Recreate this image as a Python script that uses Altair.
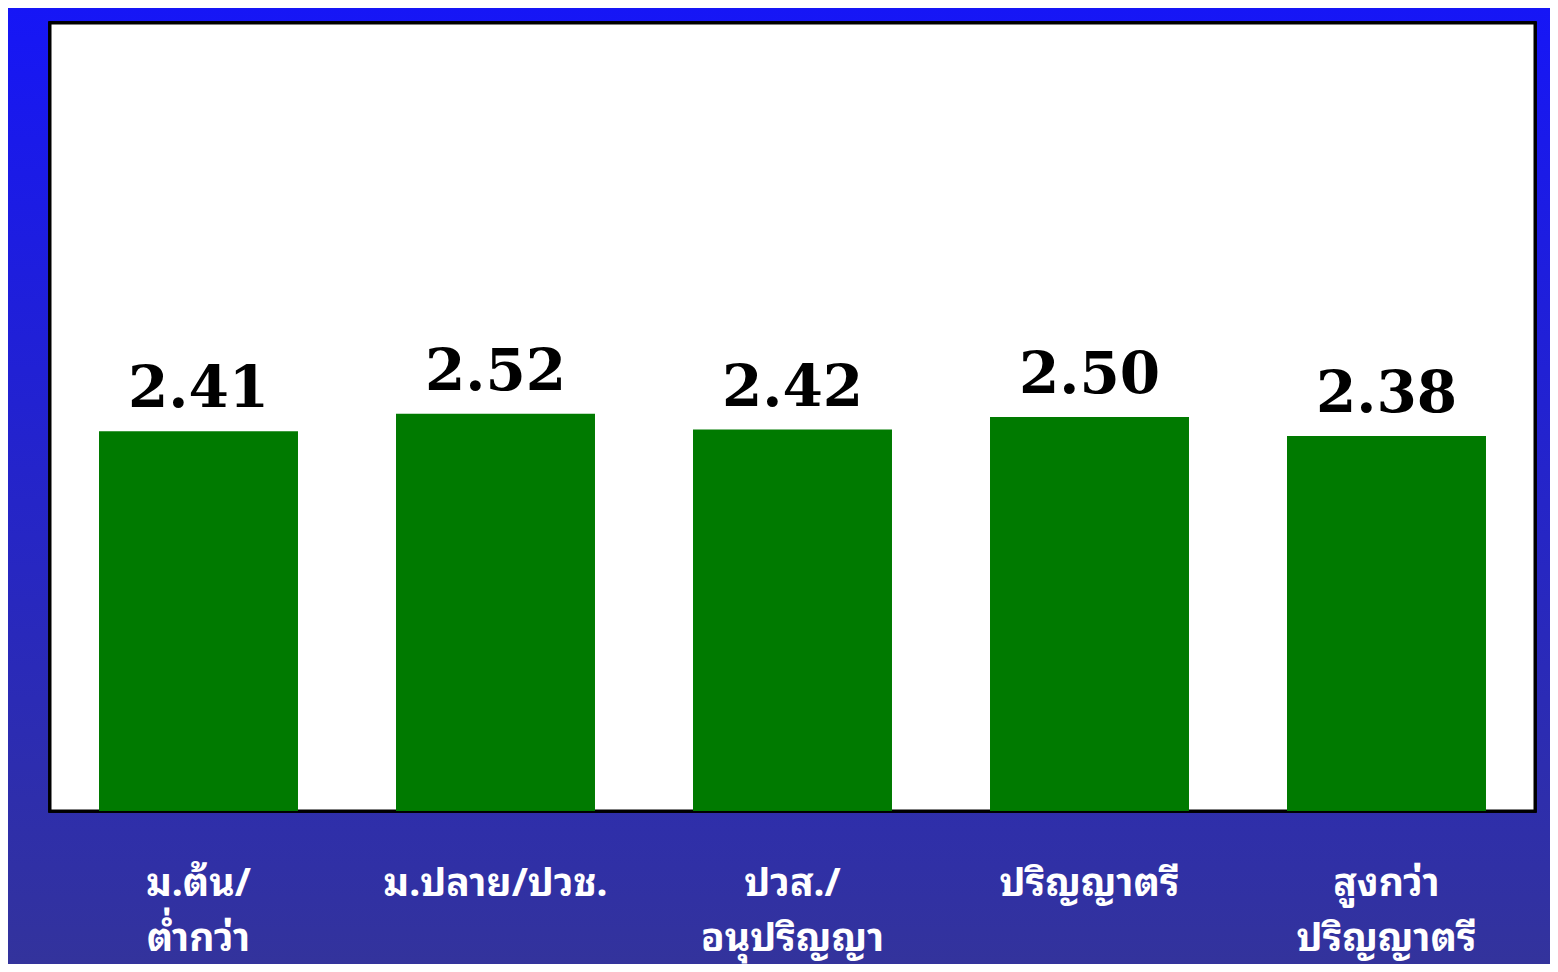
import altair as alt
import pandas as pd

categories = ["ม.ต้น/|ต่ำกว่า", "ม.ปลาย/ปวช.", "ปวส./|อนุปริญญา", "ปริญญาตรี", "สูงกว่า|ปริญญาตรี"]
values = [2.41, 2.52, 2.42, 2.50, 2.38]

df = pd.DataFrame({"cat": categories, "val": values})

W, H = 1485, 788
PAD = {"left": 42, "top": 15, "right": 15, "bottom": 153}

gradient = alt.Gradient(
    gradient="linear",
    stops=[alt.GradientStop(color="#1616f6", offset=0),
           alt.GradientStop(color="#33339c", offset=1)],
    x1=0, x2=0, y1=0, y2=1,
)

base = alt.Chart(df)

bg = base.mark_rect(fill=gradient).encode(
    x=alt.value(-PAD["left"]), x2=alt.value(W + PAD["right"]),
    y=alt.value(-PAD["top"]), y2=alt.value(H + PAD["bottom"]),
)

plot_bg = base.mark_rect(fill="white", stroke="black", strokeWidth=3).encode(
    x=alt.value(0), x2=alt.value(W), y=alt.value(0), y2=alt.value(H),
)

xenc = alt.X(
    "cat:N", sort=categories,
    scale=alt.Scale(paddingInner=0.33, paddingOuter=0.165),
    axis=alt.Axis(
        title=None, ticks=False, domain=False, labelAngle=0,
        labelExpr="split(datum.label, '|')",
        labelColor="white", labelFontSize=39, labelFontWeight="bold",
        labelFont="Noto Sans Thai Looped, Loma, Garuda, Tlwg Typo, Noto Sans Thai, Noto Sans, sans-serif",
        labelPadding=53, labelLineHeight=55, labelBaseline="top",
        labelLimit=0, labelOverlap=False,
        zindex=2,
    ),
)
yenc = alt.Y("val:Q", scale=alt.Scale(domain=[0, 5]), axis=None)

bars = base.mark_bar(color="#007a00").encode(x=xenc, y=yenc)

texts = base.mark_text(
    font="DejaVu Serif", fontWeight="bold", fontSize=58,
    baseline="alphabetic", dy=-24, color="black",
).encode(x=xenc, y=yenc, text=alt.Text("val:Q", format=".2f"))

chart = alt.layer(bg, plot_bg, bars, texts).properties(
    width=W, height=H,
    autosize=alt.AutoSizeParams(type="none"),
    padding=PAD,
).configure_view(stroke=None).configure(background="#33339c")

chart.save("out.html", embed_options={"renderer": "svg", "actions": False})
